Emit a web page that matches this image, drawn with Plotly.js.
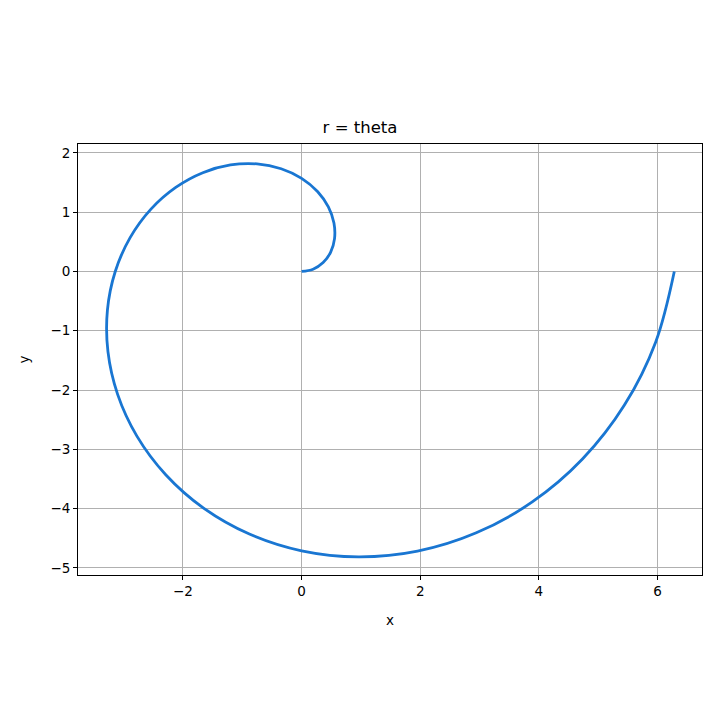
<!DOCTYPE html>
<html>
<head>
<meta charset="utf-8">
<script src="https://cdn.plot.ly/plotly-3.0.1.min.js"></script>
<style>html,body{margin:0;padding:0;background:#fff;}#chart{width:720px;height:720px;}</style>
</head>
<body>
<div id="chart"></div>
<script>
// Points
const xVals = [0, 0.193, 0.363, 0.490, 0.555, 0.545, 0.451, 0.268, 0, -0.345, -0.751, -1.200, -1.666, -2.122, -2.540, -2.889, -3.142, -3.274, -3.265, -3.102, -2.777, -2.291, -1.653, -0.881, 0, 0.958, 1.954, 2.945, 3.888, 4.735, 5.442, 5.970, 6.283];
const yVals = [0, 0.038, 0.150, 0.327, 0.555, 0.816, 1.088, 1.348, 1.571, 1.733, 1.814, 1.796, 1.666, 1.418, 1.052, 0.575, 0, -0.651, -1.353, -2.073, -2.777, -3.428, -3.991, -4.429, -4.712, -4.814, -4.717, -4.408, -3.888, -3.164, -2.254, -1.188, 0];
const titleText = "r = theta";
const xLabel = "x";
const yLabel = "y";

const font = "DejaVu Sans, sans-serif";
Plotly.newPlot("chart", [{
  x: xVals, y: yVals, type: "scatter", mode: "lines",
  line: {color: "#1976d2", width: 2.8, shape: "spline", smoothing: 1},
  hoverinfo: "skip"
}], {
  width: 720, height: 720,
  margin: {l: 78, r: 18, t: 144, b: 145},
  paper_bgcolor: "#fff", plot_bgcolor: "#fff",
  showlegend: false,
  title: {text: titleText, font: {family: font, size: 16.5, color: "#000"}, x: 0.5, xanchor: "center", y: 1 - 127/720, yanchor: "middle"},
  xaxis: {
    range: [-3.77, 6.75], tickvals: [-2, 0, 2, 4, 6],
    showgrid: true, gridcolor: "#b0b0b0", gridwidth: 1,
    zeroline: false, showline: true, linecolor: "#000", linewidth: 1, mirror: true,
    ticks: "outside", ticklen: 4, tickcolor: "#000",
    tickfont: {family: font, size: 13.5, color: "#000"},
    title: {text: xLabel, font: {family: font, size: 13.5, color: "#000"}, standoff: 17}
  },
  yaxis: {
    range: [-5.12, 2.15], tickvals: [-5, -4, -3, -2, -1, 0, 1, 2],
    showgrid: true, gridcolor: "#b0b0b0", gridwidth: 1,
    zeroline: false, showline: true, linecolor: "#000", linewidth: 1, mirror: true,
    ticks: "outside", ticklen: 4, tickcolor: "#000",
    tickfont: {family: font, size: 13.5, color: "#000"},
    title: {text: yLabel, font: {family: font, size: 13.5, color: "#000"}, standoff: 17}
  }
}, {displayModeBar: false, staticPlot: true});
</script>
</body>
</html>
